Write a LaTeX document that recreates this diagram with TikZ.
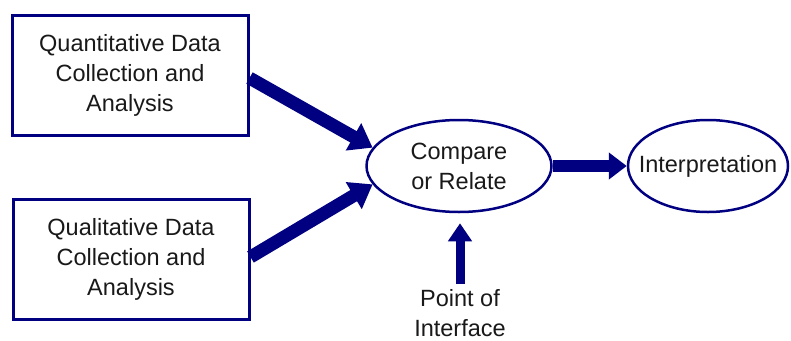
\documentclass[tikz,border=0pt]{standalone}
\usepackage{fontspec}
\setmainfont{Liberation Sans}
\usetikzlibrary{arrows.meta,shapes.geometric}
\definecolor{navyb}{RGB}{0,0,128}
\definecolor{txt}{RGB}{25,25,25}
\begin{document}
\begin{tikzpicture}[x=1pt,y=-1pt,
  every node/.style={font=\fontsize{23.5}{30}\selectfont, text=txt, align=center},
  databox/.style={draw=navyb, line width=3pt, minimum width=236pt, minimum height=120pt, inner sep=0pt},
  oval/.style={ellipse, draw=navyb, line width=2.5pt, inner sep=0pt},
  fat/.style={draw=navyb, line width=#1},
]
\useasboundingbox (0,0) rectangle (791,340);
\node[databox] (q) at (130,75) {Quantitative Data\\Collection and\\Analysis};
\node[databox] (l) at (131,259) {Qualitative Data\\Collection and\\Analysis};
\node[oval, minimum width=185pt, minimum height=92pt] (c) at (459,166) {Compare\\or Relate};
\node[oval, minimum width=160pt, minimum height=92pt, inner xsep=-16pt] (i) at (708,166) {Interpretation};
\node[inner sep=0pt] (p) at (460,313) {Point of\\Interface};
\draw[fat=13pt, -{Triangle[length=22pt,width=30pt]}] ([yshift=-3pt]q.east) -- (c.168);
\draw[fat=13pt, -{Triangle[length=22pt,width=30pt]}] ([yshift=2pt]l.east) -- (c.192);
\draw[fat=12pt, -{Triangle[length=18pt,width=26pt]}] (c.east) -- (i.west);
\draw[fat=9pt, -{Triangle[length=18pt,width=23pt]}, shorten <=5pt, shorten >=10pt] (p.north) -- (p.north |- c.south);
\end{tikzpicture}
\end{document}
